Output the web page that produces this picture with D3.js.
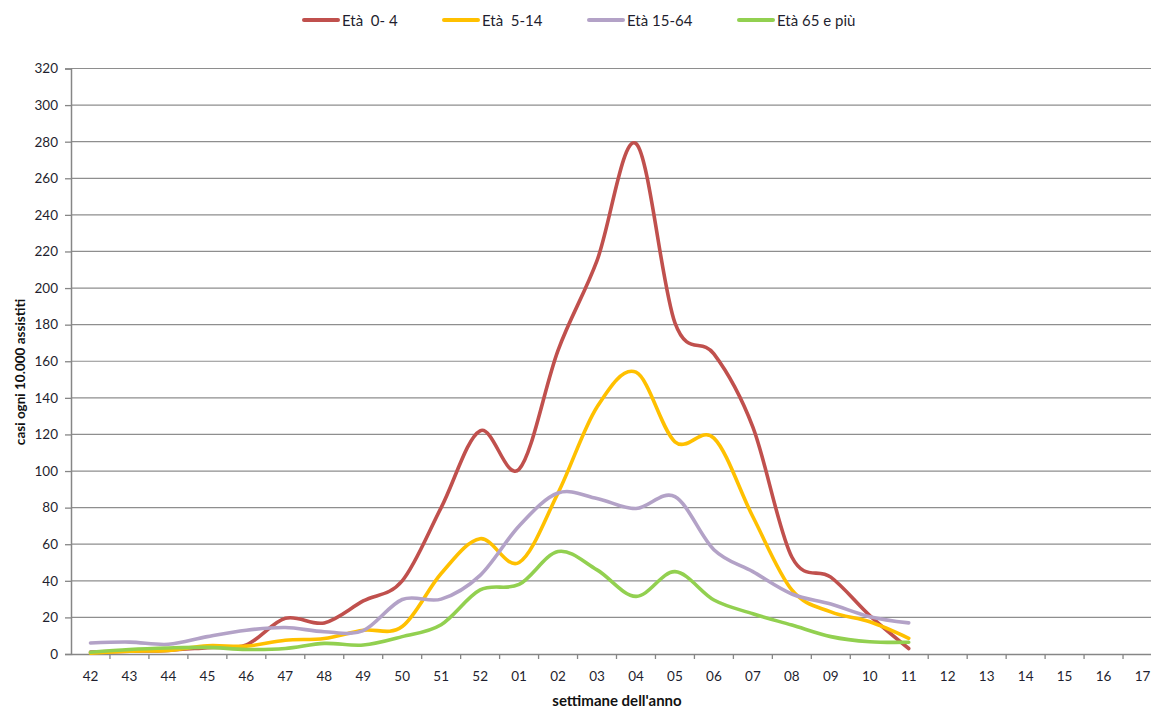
<!DOCTYPE html>
<html>
<head>
<meta charset="utf-8">
<script src="https://cdn.jsdelivr.net/npm/d3@7"></script>
<style>
  html, body { margin: 0; padding: 0; background: #fff; }
  svg { display: block; font-family: Lato, "Liberation Sans", sans-serif; }
  text { white-space: pre; }
</style>
</head>
<body>
<svg id="chart" width="1151" height="708"></svg>
<script>
// Week labels on the x axis (season from week 42 to week 17)
const weeks = ["42","43","44","45","46","47","48","49","50","51","52",
               "01","02","03","04","05","06","07","08","09","10","11",
               "12","13","14","15","16","17"];

// Cases per 10,000 assisted, one value per week (weeks 42 to 11)
const age0to4   = [1, 1.5, 2, 3.5, 5, 19.5, 17, 29, 40, 80, 122, 101, 166, 215, 279, 181, 164, 124, 53, 42, 21, 3];
const age5to14  = [0.5, 1.5, 2, 4.5, 4.3, 7.5, 8.5, 13, 15, 44, 63, 50, 88, 135, 154, 116, 118, 75, 35, 23, 17.6, 8.6];
const age15to64 = [6, 6.5, 5.3, 9.5, 13, 14.5, 12.2, 12.8, 29.8, 30, 43, 70, 88, 85, 79.5, 86, 57, 45, 32.8, 27.3, 20.4, 17];
const age65plus = [1, 2.5, 3.3, 3.6, 2.5, 3, 5.8, 4.9, 9.5, 16, 35, 38, 56, 46, 31.5, 45, 29.5, 22, 15.8, 9.5, 6.7, 6.4];

const seriesNames  = ["Età  0- 4", "Età  5-14", "Età 15-64", "Età 65 e più"];
const seriesColors = ["#C0504D", "#FFC000", "#B3A2C7", "#92D050"];
const seriesValues = [age0to4, age5to14, age15to64, age65plus];

const yTicks = d3.range(0, 321, 20);

const svg = d3.select("#chart");
const plotLeft = 71, plotRight = 1162, plotTop = 68.5, plotBottom = 654;

const x = d3.scaleBand().domain(weeks).range([plotLeft, plotRight]).paddingInner(0).paddingOuter(0);
const y = d3.scaleLinear().domain([0, 320]).range([plotBottom, plotTop]);

// horizontal gridlines
svg.append("g")
  .selectAll("line")
  .data(yTicks.filter(d => d > 0))
  .join("line")
  .attr("x1", plotLeft).attr("x2", plotRight)
  .attr("y1", d => y(d)).attr("y2", d => y(d))
  .attr("stroke", "#8e8e8e").attr("stroke-width", 1.2);

// y axis
const yAxis = svg.append("g")
  .attr("transform", `translate(${plotLeft},0)`)
  .call(d3.axisLeft(y).tickValues(yTicks).tickSize(6).tickPadding(7));
yAxis.select(".domain").attr("stroke", "#868686").attr("stroke-width", 1.5);
yAxis.selectAll(".tick line").attr("stroke", "#868686").attr("stroke-width", 1.3);
yAxis.selectAll(".tick text").attr("font-size", 13.5).attr("fill", "#1f1f2f")
  .attr("font-family", "Lato, sans-serif");

// x axis with ticks between categories
const xAxis = svg.append("g")
  .attr("transform", `translate(0,${plotBottom})`)
  .call(d3.axisBottom(x).tickSize(0).tickPadding(17));
xAxis.select(".domain").attr("stroke", "#868686").attr("stroke-width", 1.5);
xAxis.selectAll(".tick text").attr("font-size", 13.5).attr("fill", "#1f1f2f")
  .attr("font-family", "Lato, sans-serif");
xAxis.append("g")
  .selectAll("line")
  .data(weeks)
  .join("line")
  .attr("x1", d => x(d) + x.bandwidth()).attr("x2", d => x(d) + x.bandwidth())
  .attr("y1", 0).attr("y2", 5)
  .attr("stroke", "#868686").attr("stroke-width", 1.3);

// axis titles
svg.append("text")
  .attr("transform", "translate(25,372) rotate(-90)")
  .attr("text-anchor", "middle")
  .attr("font-size", 13.5).attr("font-weight", "bold").attr("fill", "#111")
  .text("casi ogni 10.000 assistiti");

svg.append("text")
  .attr("x", 617).attr("y", 706)
  .attr("text-anchor", "middle")
  .attr("font-size", 15).attr("font-weight", "bold").attr("fill", "#111")
  .text("settimane dell'anno");

// smoothed series lines
const line = d3.line()
  .x((d, i) => x(weeks[i]) + x.bandwidth() / 2)
  .y(d => y(d))
  .curve(d3.curveCardinal.tension(0));

svg.append("g")
  .selectAll("path")
  .data(seriesValues)
  .join("path")
  .attr("d", d => line(d))
  .attr("fill", "none")
  .attr("stroke", (d, i) => seriesColors[i])
  .attr("stroke-width", 3.6)
  .attr("stroke-linejoin", "round")
  .attr("stroke-linecap", "round");

// legend
const legendX = [304, 444, 589, 739];
const legend = svg.append("g")
  .selectAll("g")
  .data(seriesNames)
  .join("g")
  .attr("transform", (d, i) => `translate(${legendX[i]},20)`);
legend.append("line")
  .attr("x1", 0).attr("x2", 34)
  .attr("stroke", (d, i) => seriesColors[i])
  .attr("stroke-width", 4).attr("stroke-linecap", "round");
legend.append("text")
  .attr("x", 38).attr("y", 5.5)
  .attr("font-size", 15).attr("fill", "#1f1f2f")
  .text(d => d);
</script>
</body>
</html>
